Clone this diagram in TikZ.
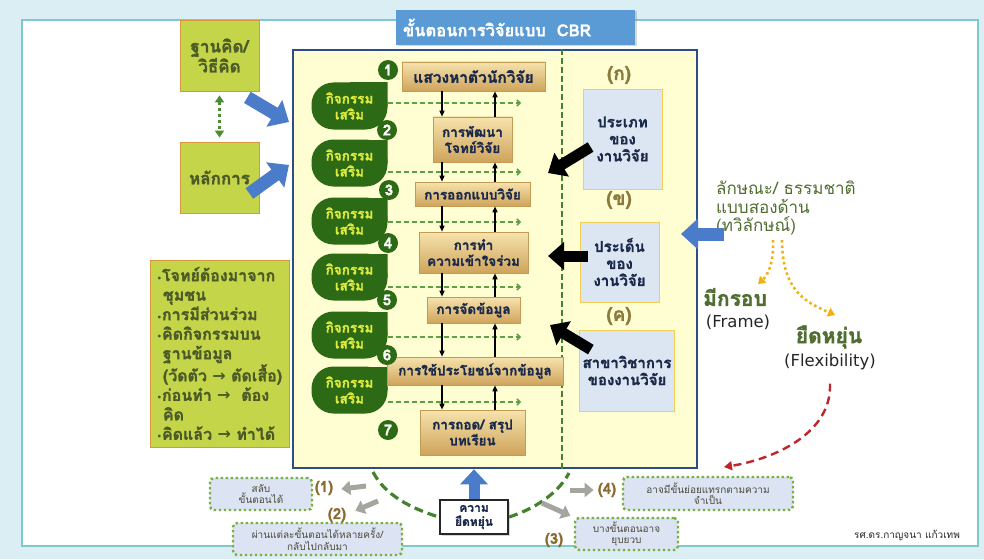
\documentclass[tikz,border=0pt]{standalone}
\usepackage{fontspec}
\setmainfont{Loma}[Script=Thai, BoldFeatures={FakeBold=1.5}]
\newfontfamily\latinsf{DejaVu Sans}
\usepackage{tikz}
\usetikzlibrary{
    calc,
    arrows.meta,
    shadows,
    positioning
}

\begin{document}
\begin{tikzpicture}[
    x=1pt, y=-1pt,
    font=\bfseries,
    stepbox/.style={
    	draw=stepedge, line width=0.6pt,
    	top color=steptop, bottom color=stepbot,
    	inner sep=2pt, align=center, text=navytext,
    	font=\fontsize{13.5}{16}\selectfont\bfseries,
    	drop shadow={opacity=0.3, shadow xshift=1.2pt, shadow yshift=-1.2pt}
    }, leaf/.style={
    	minimum width=76pt, minimum height=47pt, inner sep=0pt,
    	align=center, text=leaftext,
    	font=\fontsize{13.5}{16}\selectfont\bfseries,
    	path picture={
    		\fill[leafgreen, rounded corners=22pt] (path picture bounding box.south west) rectangle (path picture bounding box.north east);
    		\fill[leafgreen] (path picture bounding box.center) rectangle (path picture bounding box.north east);
    	}
    }, num/.style={
    	circle, fill=leafgreen, text=white, inner sep=0pt, minimum size=20pt,
    	font=\fontsize{15}{15}\selectfont\bfseries
    }, topic/.style={
    	draw=topicedge, fill=topicfill, line width=0.8pt,
    	align=center, text=navytext,
    	font=\fontsize{15}{17}\selectfont\bfseries
    }, tag/.style={
    	text=tagbrown, font=\fontsize{19}{19}\selectfont\bfseries
    }, olive/.style={
    	draw=oliveedge, fill=olivefill, line width=0.8pt, text=olivetext
    }, note/.style={
    	draw=notedot, fill=notefill, line width=2.4pt, rounded corners=4pt,
    	dash pattern=on 2.4pt off 2.6pt, align=center, inner sep=1pt,
    	text=notetext, font=\fontsize{10}{11.5}\selectfont
    }, lab/.style={
    	text=labbrown, inner sep=1pt, font=\fontsize{15}{15}\selectfont\bfseries
    }, pil/.style={
    	-{Triangle[length=6pt, width=5pt]},
    	line width=1.4pt
    }, extra/.style={
    	-{Straight Barb[length=3pt, width=6pt]},
    	draw=extragreen, line width=1.5pt, dash pattern=on 5pt off 3pt
    }, bluearr/.style={
    	-{Triangle[length=17pt, width=30pt]}, draw=blockblue, line width=13pt
    }, blackarr/.style={
    	-{Triangle[length=16pt, width=27pt]}, draw=black, line width=11pt
    }, grayarr/.style={
    	-{Triangle[length=9pt, width=14pt]}, draw=arrgray, line width=5pt
    }]
    \definecolor{bgblue}{HTML}{DAEEF4}
    \definecolor{panelline}{HTML}{7EC8D0}
    \definecolor{mainnavy}{HTML}{2E4C8A}
    \definecolor{mainyellow}{HTML}{FFFDD2}
    \definecolor{titleblue}{HTML}{5B9BD5}
    \definecolor{steptop}{HTML}{F6E3AC}
    \definecolor{stepbot}{HTML}{CFA45C}
    \definecolor{stepedge}{HTML}{C49B55}
    \definecolor{navytext}{HTML}{1B2A4A}
    \definecolor{leafgreen}{HTML}{2C6A15}
    \definecolor{leaftext}{HTML}{DDEB3C}
    \definecolor{topicfill}{HTML}{DCE6F2}
    \definecolor{topicedge}{HTML}{F2CF5B}
    \definecolor{tagbrown}{HTML}{8A7A3E}
    \definecolor{olivefill}{HTML}{C5D549}
    \definecolor{oliveedge}{HTML}{D8963E}
    \definecolor{olivetext}{HTML}{4B5A26}
    \definecolor{linkgreen}{HTML}{4F8A34}
    \definecolor{blockblue}{HTML}{4A7CC9}
    \definecolor{arrgray}{HTML}{A5A5A0}
    \definecolor{notefill}{HTML}{DCE3F2}
    \definecolor{notedot}{HTML}{78B043}
    \definecolor{notetext}{HTML}{4A4A3A}
    \definecolor{labbrown}{HTML}{8C6B2F}
    \definecolor{dashgreen}{HTML}{44832C}
    \definecolor{extragreen}{HTML}{5E9E45}
    \definecolor{gold}{HTML}{F2B10C}
    \definecolor{darkred}{HTML}{C0252B}
    \definecolor{natgreen}{HTML}{4F6E2F}

    \useasboundingbox (0,0) rectangle (984,559);
    \fill[bgblue] (0,0) rectangle (984,559);
    \draw[panelline, fill=white, line width=1.4pt] (22,20) rectangle (978,546);

    %%% CBR frame
    \node[draw=mainnavy, fill=mainyellow, line width=2.6pt, minimum width=404pt, minimum height=418pt] (main) at (495,259) {};
    \node[fill=titleblue, text=white, minimum height=35pt, inner xsep=7pt, text width=225pt, align=left,
    	font=\fontsize{16.5}{16.5}\selectfont\bfseries,
    	drop shadow={opacity=0.3, shadow xshift=1.5pt, shadow yshift=-1.5pt}] (title) at (515.5,27.5) {ขั้นตอนการวิจัยแบบ\ \ CBR};

    \coordinate (split) at (562,0);
    \draw[dashgreen, line width=2.6pt, dash pattern=on 6pt off 3pt] (main.north -| split) -- (main.south -| split);

    %%% extra activities
    \node[leaf] (act1) at (349.5,106) {กิจกรรม\\เสริม};
    \node[leaf] (act2) at (349.5,163) {กิจกรรม\\เสริม};
    \node[leaf] (act3) at (349.5,221) {กิจกรรม\\เสริม};
    \node[leaf] (act4) at (349.5,277) {กิจกรรม\\เสริม};
    \node[leaf] (act5) at (349.5,335) {กิจกรรม\\เสริม};
    \node[leaf] (act6) at (349.5,390) {กิจกรรม\\เสริม};

    \coordinate (dashend) at (521,0);
    \draw[extra] ($(act1.east)+(0,-3)$) coordinate (h1) -- (h1 -| dashend);
    \draw[extra] ($(act2.east)+(0,9)$) coordinate (h2) -- (h2 -| dashend);
    \draw[extra] ($(act3.east)+(0,1)$) coordinate (h3) -- (h3 -| dashend);
    \draw[extra] ($(act4.east)+(0,10)$) coordinate (h4) -- (h4 -| dashend);
    \draw[extra] ($(act5.east)+(0,2)$) coordinate (h5) -- (h5 -| dashend);
    \draw[extra] ($(act6.east)+(0,12)$) coordinate (h6) -- (h6 -| dashend);

    %%% steps
    \node[stepbox, minimum width=143pt, minimum height=29pt, font=\fontsize{15.5}{15.5}\selectfont\bfseries] (s1) at (473.5,76.5) {แสวงหาตัวนักวิจัย};
    \node[stepbox, minimum width=79pt, minimum height=45pt] (s2) at (472.5,139.5) {การพัฒนา\\โจทย์วิจัย};
    \node[stepbox, minimum width=115pt, minimum height=24pt] (s3) at (472.5,194) {การออกแบบวิจัย};
    \node[stepbox, minimum width=109pt, minimum height=41pt] (s4) at (473.5,252.5) {การทำ\\ความเข้าใจร่วม};
    \node[stepbox, minimum width=93pt, minimum height=26pt] (s5) at (473.5,310) {การจัดข้อมูล};
    \node[stepbox, minimum width=176pt, minimum height=28pt] (s6) at (475,371) {การใช้ประโยชน์จากข้อมูล};
    \node[stepbox, minimum width=105pt, minimum height=45pt] (s7) at (472.5,432.5) {การถอด/ สรุป\\บทเรียน};

    \node[num] (n1) at (388,70) {1};
    \node[num] (n2) at (387,130) {2};
    \node[num] (n3) at (389,190) {3};
    \node[num] (n4) at (388,243) {4};
    \node[num] (n5) at (387,300) {5};
    \node[num] (n6) at (387,355) {6};
    \node[num] (n7) at (388,430) {7};

    %%% EDGES between steps
    \coordinate (dn) at (442,0);
    \coordinate (up) at (495,0);
    \draw[pil] (s1.south -| dn) -- (s2.north -| dn);
    \draw[pil] (s2.north -| up) -- (s1.south -| up);
    \draw[pil] (s2.south -| dn) -- (s3.north -| dn);
    \draw[pil] (s3.north -| up) -- (s2.south -| up);
    \draw[pil] (s3.south -| dn) -- (s4.north -| dn);
    \draw[pil] (s4.north -| up) -- (s3.south -| up);
    \draw[pil] (s4.south -| dn) -- (s5.north -| dn);
    \draw[pil] (s5.north -| up) -- (s4.south -| up);
    \draw[pil] (s5.south -| dn) -- (s6.north -| dn);
    \draw[pil] (s6.north -| up) -- (s5.south -| up);
    \draw[pil] (s6.south -| dn) -- (s7.north -| dn);
    \draw[pil] (s7.north -| up) -- (s6.south -| up);

    %%% research topics
    \node[tag] (tagA) at (619,75) {(ก)};
    \node[topic, minimum width=79pt, minimum height=100pt] (tA) at (622.5,139) {ประเภท\\ของ\\งานวิจัย};
    \node[tag] (tagB) at (619,200) {(ข)};
    \node[topic, minimum width=79pt, minimum height=80pt] (tB) at (619.5,262) {ประเด็น\\ของ\\งานวิจัย};
    \node[tag] (tagC) at (619,316) {(ค)};
    \node[topic, minimum width=92pt, minimum height=81pt] (tC) at (627,370.5) {สาขาวิชาการ\\ของงานวิจัย};

    \coordinate (hitA) at (548,173);
    \coordinate (hitB) at (548,256);
    \coordinate (hitC) at (550,325);
    \draw[blackarr] ($(tA.west)+(8,8)$) -- (hitA);
    \draw[blackarr] ($(tB.west)+(8,-6)$) -- (hitB);
    \draw[blackarr] ($(tC.north west)+(12,20)$) -- (hitC);

    %%% left side
    \node[olive, minimum width=79pt, minimum height=71pt, align=center, font=\fontsize{17}{20}\selectfont\bfseries] (basis) at (219.5,55.5) {ฐานคิด/\\วิธีคิด};
    \node[olive, minimum width=79pt, minimum height=71pt, font=\fontsize{17}{20}\selectfont\bfseries] (principle) at (219.5,177.5) {หลักการ};
    \draw[linkgreen, line width=3pt, dash pattern=on 3pt off 3pt, {Triangle[length=7pt, width=9pt]}-{Triangle[length=7pt, width=9pt]}, shorten <=4pt, shorten >=4pt] (basis) -- (principle);

    \node[olive, minimum width=139pt, minimum height=187pt, align=left, inner sep=3pt, font=\fontsize{16}{19.5}\selectfont\bfseries] (guide) at (219.5,353.5) {%
    	{\latinsf\fontsize{8}{8}\selectfont •}โจทย์ต้องมาจาก\\
    	\hspace*{6pt}ชุมชน\\
    	{\latinsf\fontsize{8}{8}\selectfont •}การมีส่วนร่วม\\
    	{\latinsf\fontsize{8}{8}\selectfont •}คิดกิจกรรมบน\\
    	\hspace*{6pt}ฐานข้อมูล\\
    	\hspace*{6pt}(วัดตัว {\latinsf →} ตัดเสื้อ)\\
    	{\latinsf\fontsize{8}{8}\selectfont •}ก่อนทำ {\latinsf →}\ \ ต้อง\\
    	\hspace*{6pt}คิด\\
    	{\latinsf\fontsize{8}{8}\selectfont •}คิดแล้ว {\latinsf →} ทำได้};

    \coordinate (intoA) at (289,122);
    \coordinate (intoB) at (289,165);
    \draw[bluearr] ($(basis.south east)+(-12,6)$) -- (intoA);
    \draw[bluearr] ($(principle.east)+(-10,16)$) -- (intoB);

    %%% right side
    \node[anchor=west, align=left, inner sep=0pt, text=natgreen, font=\fontsize{17}{18.5}\selectfont] (nature) at (716,208) {ลักษณะ/ ธรรมชาติ\\แบบสองด้าน\\(ทวิลักษณ์)};
    \coordinate (natureTail) at (724,234);
    \coordinate (intoC) at (681,234);
    \draw[bluearr] (natureTail) -- (intoC);

    \node[text=natgreen, font=\fontsize{21}{21}\selectfont\bfseries] (frame) at (735,297) {มีกรอบ};
    \node[text=black!85, font=\latinsf\mdseries\fontsize{16.5}{16.5}\selectfont] (frameEn) at (738,322) {(Frame)};
    \node[text=natgreen, font=\fontsize{21}{21}\selectfont\bfseries] (flexTh) at (829,337) {ยืดหยุ่น};
    \node[text=black!85, font=\latinsf\mdseries\fontsize{16.5}{16.5}\selectfont] (flexEn) at (830,362) {(Flexibility)};

    \coordinate (natA) at (773,240);
    \coordinate (natB) at (782,240);
    \draw[gold, line width=2.6pt, dash pattern=on 2.5pt off 3pt, -{Triangle[length=7pt, width=9pt]}] (natA) .. controls (774,262) and (768,275) .. (758,284);
    \draw[gold, line width=2.6pt, dash pattern=on 2.5pt off 3pt, -{Triangle[length=7pt, width=9pt]}] (natB) .. controls (782,290) and (805,302) .. (835,315);

    %%% flexibility
    \node[draw=black!85, fill=white, line width=2.2pt, minimum width=68pt, minimum height=34pt, align=center, text=navytext,
    	font=\fontsize{12}{14}\selectfont\bfseries,
    	drop shadow={opacity=0.3, shadow xshift=1.5pt, shadow yshift=-1.5pt}] (flex) at (474,517) {ความ\\ยืดหยุ่น};
    \draw[bluearr, -{Triangle[length=15pt, width=27pt]}, line width=11pt] (flex.north) -- (main.south -| flex);

    \coordinate (smileL) at (373,472);
    \coordinate (smileR) at (569,473);
    \draw[dashgreen, line width=3.2pt, dash pattern=on 9pt off 5pt] (smileL) .. controls (385,495) and (410,508) .. (flex.west);
    \draw[dashgreen, line width=3.2pt, dash pattern=on 9pt off 5pt] (flex.east) .. controls (540,507) and (560,490) .. (smileR);

    \draw[darkred, line width=2.4pt, dash pattern=on 8pt off 5pt, -{Triangle[length=8pt, width=9pt]}] ($(flexEn.south)+(0,10)$) .. controls +(2,50) and +(50,-8) .. (724,467);

    %%% bottom notes
    \node[note, minimum width=102pt, minimum height=32pt] (b1) at (261,494) {สลับ\\ขั้นตอนได้};
    \node[note, minimum width=169pt, minimum height=32pt] (b2) at (317.5,539) {ผ่านแต่ละขั้นตอนได้หลายครั้ง/\\กลับไปกลับมา};
    \node[note, minimum width=103pt, minimum height=32pt] (b3) at (626.5,534) {บางขั้นตอนอาจ\\ยุบยวบ};
    \node[note, minimum width=170pt, minimum height=33pt] (b4) at (708,493.5) {อาจมีขั้นย่อยแทรกตามความ\\จำเป็น};

    \node[lab] (lab1) at (324,488) {(1)};
    \node[lab] (lab2) at (337,515) {(2)};
    \node[lab] (lab3) at (554,540) {(3)};
    \node[lab] (lab4) at (607,490) {(4)};

    \coordinate (g1) at (366,486);
    \coordinate (g2) at (378,501);
    \coordinate (g3) at (542,503);
    \coordinate (g4) at (570,490);
    \draw[grayarr] (g1) -- ($(lab1.east)+(7,1)$);
    \draw[grayarr] (g2) -- ($(lab2.north east)+(8,4)$);
    \draw[grayarr] (g3) -- ($(lab3.north east)+(6,-16)$);
    \draw[grayarr] (g4) -- ($(lab4.west)+(-3,0)$);

    \node[text=black!85, font=\fontsize{10}{10}\selectfont\mdseries] (sign) at (907,535) {รศ.ดร.กาญจนา แก้วเทพ};

\end{tikzpicture}
\end{document}
